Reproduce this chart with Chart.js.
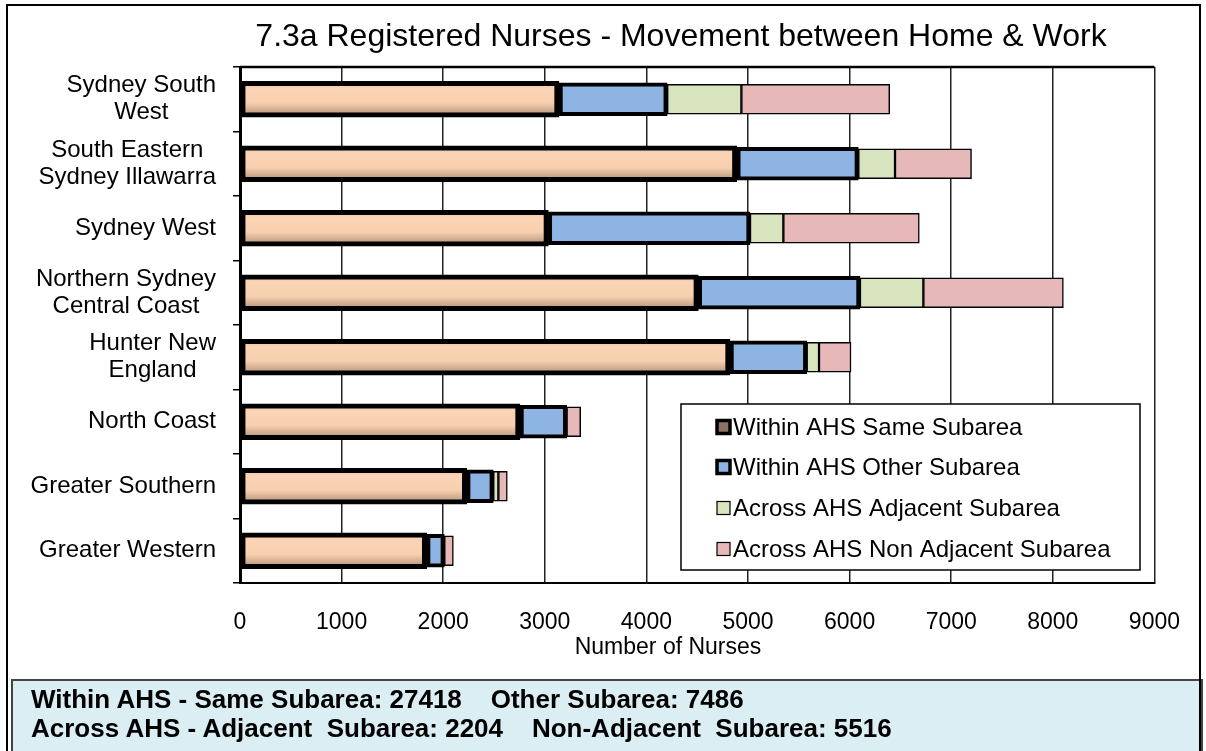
<!DOCTYPE html>
<html>
<head>
<meta charset="utf-8">
<script src="https://cdn.jsdelivr.net/npm/chart.js@4"></script>
<style>
  body { margin: 0; background: #fff; }
  #wrap { position: relative; width: 1206px; height: 751px; overflow: hidden; }
  #myChart { position: absolute; left: 0; top: 0; }
  #frame { position: absolute; left: 6px; top: 4px; width: 1191px; height: 780px; border: 2px solid #000; }
  #totals { position: absolute; left: 11px; top: 679px; width: 1188px; height: 80px;
    background: #DAEEF3; border: 2px solid #444; }
  #totalsText { position: absolute; left: 31px; top: 685px; font: bold 26px Arial, "Liberation Sans", sans-serif;
    line-height: 29px; white-space: pre; color: #000; }
</style>
</head>
<body>
<div id="wrap">
  <canvas id="myChart" width="1206" height="672"></canvas>
  <div id="totals"></div>
  <div id="totalsText"></div>
  <div id="frame"></div>
</div>
<script>
// category labels (one entry per line of the label)
const yLabels = [
  ['Sydney South', 'West'],
  ['South Eastern', 'Sydney Illawarra'],
  ['Sydney West'],
  ['Northern Sydney', 'Central Coast'],
  ['Hunter New', 'England'],
  ['North Coast'],
  ['Greater Southern'],
  ['Greater Western']
];
const categories = yLabels.map(l => l.join(' '));

// number of nurses
const sameSub   = [3140, 4890, 3035, 4511, 4823, 2756, 2231, 1837];
const otherSub  = [1065, 1196, 1985, 1591, 755, 459, 262, 174];
const adjSub    = [730, 361, 328, 624, 121, 0, 50, 0];
const nonAdjSub = [1460, 753, 1338, 1378, 315, 138, 88, 89];

const seriesNames = ['Within AHS Same Subarea', 'Within AHS Other Subarea',
  'Across AHS Adjacent Subarea', 'Across AHS Non Adjacent Subarea'];
const xTicks = [0, 1000, 2000, 3000, 4000, 5000, 6000, 7000, 8000, 9000];

const chartTitle = '7.3a Registered Nurses - Movement between Home & Work';
const xTitle = 'Number of Nurses';

// totals shown in the box under the chart
const totalSame = 27418;
const totalOther = 7486;
const totalAdj = 2204;
const totalNonAdj = 5516;

const fontFamily = 'Arial, "Liberation Sans", sans-serif';

document.getElementById('totalsText').textContent =
  'Within AHS - Same Subarea: ' + totalSame + '    Other Subarea: ' + totalOther + '\n' +
  'Across AHS - Adjacent  Subarea: ' + totalAdj + '    Non-Adjacent  Subarea: ' + totalNonAdj;

// shaded fill for the first series
function sameFill(c) {
  const chart = c.chart;
  const y = chart.scales && chart.scales.y;
  if (!y || c.type !== 'data') return '#F9D2B3';
  const mid = y.getPixelForValue(c.dataIndex);
  if (!isFinite(mid)) return '#F9D2B3';
  const g = chart.ctx.createLinearGradient(0, mid - 18, 0, mid + 18);
  g.addColorStop(0, '#E9C0A2');
  g.addColorStop(0.2, '#FAD4B5');
  g.addColorStop(0.6, '#F8D0B0');
  g.addColorStop(0.85, '#C7A58B');
  g.addColorStop(1, '#7D6555');
  return g;
}

const legendMarks = [
  { fill: '#8B7262', border: 3.5 },
  { fill: '#8EB4E3', border: 3.5 },
  { fill: '#D7E4BD', border: 1.2 },
  { fill: '#E6B9B8', border: 1.2 }
];

const extras = {
  id: 'extras',
  afterDraw(chart) {
    const { ctx, chartArea, scales } = chart;
    ctx.save();
    // top edge of plot area
    ctx.strokeStyle = '#000';
    ctx.lineWidth = 2.5;
    ctx.beginPath();
    ctx.moveTo(chartArea.left, chartArea.top);
    ctx.lineTo(chartArea.right, chartArea.top);
    ctx.stroke();

    // category labels, lines centred, block right aligned
    ctx.font = '24px ' + fontFamily;
    ctx.fillStyle = '#000';
    ctx.textBaseline = 'middle';
    ctx.textAlign = 'center';
    yLabels.forEach((lines, i) => {
      const cy = scales.y.getPixelForValue(i);
      const w = Math.max(...lines.map(l => ctx.measureText(l).width));
      const cx = chartArea.left - 24 - w / 2;
      lines.forEach((l, j) => {
        ctx.fillText(l, cx, cy + (j - (lines.length - 1) / 2) * 27);
      });
    });

    // x axis title
    ctx.font = '23px ' + fontFamily;
    ctx.fillText(xTitle, 668, 648);

    // legend box
    const lx = 681, ly = 404, lw = 459, lh = 166;
    ctx.fillStyle = '#fff';
    ctx.fillRect(lx, ly, lw, lh);
    ctx.strokeStyle = '#000';
    ctx.lineWidth = 1.5;
    ctx.strokeRect(lx, ly, lw, lh);
    const rows = [427, 467, 508, 549];
    chart.data.datasets.forEach((ds, i) => {
      const m = legendMarks[i];
      const s = 13;
      ctx.fillStyle = m.fill;
      ctx.fillRect(717, rows[i] - s / 2, s, s);
      ctx.lineWidth = m.border;
      ctx.strokeStyle = '#000';
      ctx.strokeRect(717, rows[i] - s / 2, s, s);
      ctx.fillStyle = '#000';
      ctx.textAlign = 'left';
      ctx.font = '24px ' + fontFamily;
      ctx.fillText(ds.label, 733, rows[i] + 1);
    });
    ctx.restore();
  }
};

let chart = null;
function createChart() {
  const ctx = document.getElementById('myChart').getContext('2d');
  chart = new Chart(ctx, {
    type: 'bar',
    data: {
      labels: categories,
      datasets: [
        {
          label: seriesNames[0],
          data: sameSub,
          backgroundColor: sameFill,
          borderColor: '#000',
          borderWidth: 5,
          borderSkipped: false,
          barThickness: 36
        },
        {
          label: seriesNames[1],
          data: otherSub,
          backgroundColor: '#8EB4E3',
          borderColor: '#000',
          borderWidth: 4,
          borderSkipped: false,
          barThickness: 33
        },
        {
          label: seriesNames[2],
          data: adjSub,
          backgroundColor: '#D7E4BD',
          borderColor: '#000',
          borderWidth: 1.5,
          borderSkipped: false,
          barThickness: 30
        },
        {
          label: seriesNames[3],
          data: nonAdjSub,
          backgroundColor: '#E6B9B8',
          borderColor: '#000',
          borderWidth: 1.5,
          borderSkipped: false,
          barThickness: 30
        }
      ]
    },
    options: {
      indexAxis: 'y',
      responsive: false,
      animation: false,
      layout: { padding: { left: 207, right: 51, top: 0, bottom: 29 } },
      plugins: {
        legend: { display: false },
        tooltip: { enabled: false },
        title: {
          display: true,
          text: chartTitle,
          color: '#000',
          font: { family: fontFamily, size: 32, weight: 'normal' },
          padding: { top: 18, bottom: 10.6 }
        }
      },
      scales: {
        x: {
          stacked: true,
          min: 0,
          max: 9000,
          afterFit: s => { s.height = 60; },
          afterBuildTicks: s => { s.ticks = xTicks.map(v => ({ value: v })); },
          ticks: {
            color: '#000',
            padding: 26,
            font: { family: fontFamily, size: 23 },
            callback: v => String(v)
          },
          grid: { color: '#222', lineWidth: 1.5, drawTicks: false },
          border: { color: '#000', width: 2 }
        },
        y: {
          stacked: true,
          afterFit: s => { s.width = 33; },
          ticks: { display: false },
          grid: { drawOnChartArea: false, color: '#000', lineWidth: 1.5, tickLength: 7 },
          border: { color: '#000', width: 3 }
        }
      }
    },
    plugins: [extras]
  });
}

createChart();
</script>
</body>
</html>
